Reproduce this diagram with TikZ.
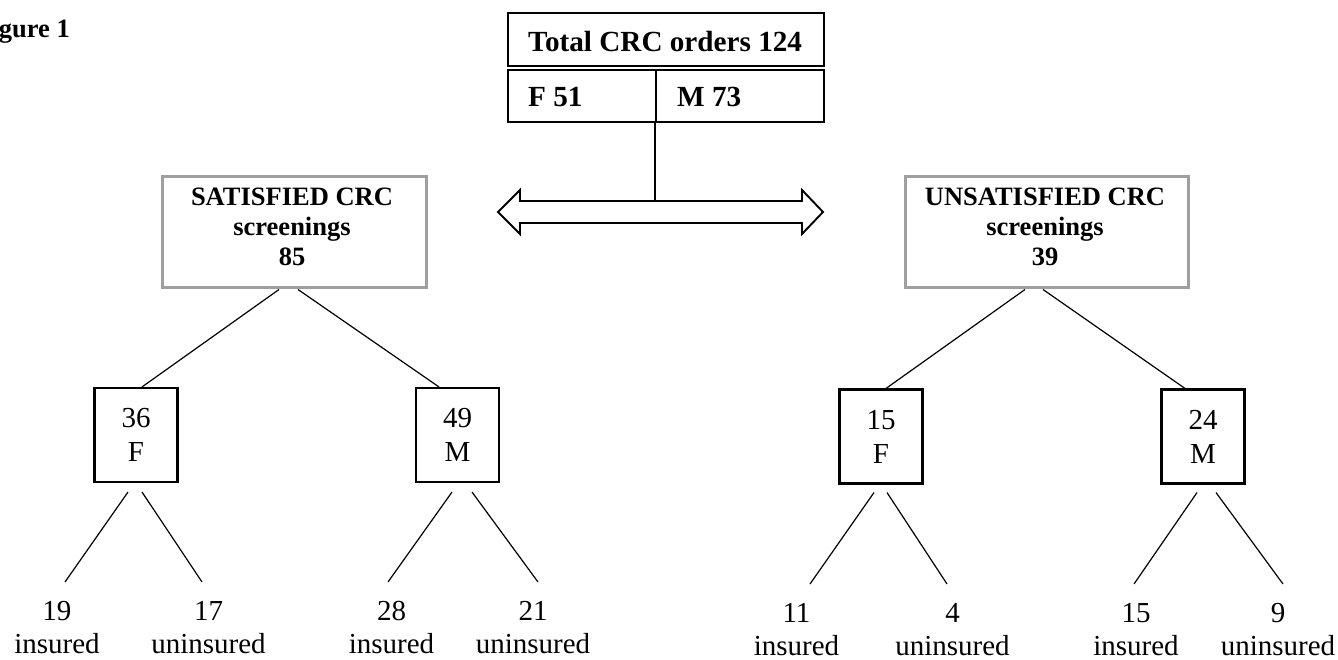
\documentclass[tikz,border=0pt]{standalone}
\usepackage{fontspec}
\setmainfont{Liberation Serif}
\begin{document}
\begin{tikzpicture}[x=1pt,y=-1pt,
  btxt/.style={inner sep=0pt, font=\fontsize{29.2}{33}\selectfont\bfseries},
  htxt/.style={inner sep=0pt, align=center, font=\fontsize{26.5}{30}\selectfont\bfseries},
  topcell/.style={draw, line width=1.9pt, inner sep=0pt, anchor=north west},
  grybox/.style={draw=gray!75, line width=3pt, inner sep=0pt, minimum height=111pt},
  sexbox/.style={draw, line width=2.1pt, align=center, inner sep=0pt, minimum width=83pt, minimum height=94pt, font=\fontsize{29}{34}\selectfont},
  leaf/.style={align=center, inner sep=0pt, anchor=north, font=\fontsize{29}{33}\selectfont},
  conn/.style={line width=1.2pt}
]
\useasboundingbox (0,0) rectangle (1338,660);

% caption fragment
\node[inner sep=0pt, anchor=base east, font=\fontsize{26.5}{30}\selectfont\bfseries] (fig) at (70,38) {gure 1};

% top table
\node[topcell, minimum width=316pt, minimum height=53pt] (tot) at (507,12) {};
\node[topcell, minimum width=148pt, minimum height=52pt] (fcell) at (507,69) {};
\node[topcell, minimum width=168pt, minimum height=52pt] (mcell) at (655,69) {};
\node[btxt, anchor=base west] (tott) at (528,52) {Total CRC orders 124};
\node[btxt, anchor=base west] (ft) at (528,107) {F 51};
\node[btxt, anchor=base west] (mt) at (677,107) {M 73};

% double arrow
\coordinate (arrtop) at (655,201);
\draw[line width=1.9pt, line join=miter] (498,212) -- (520,190) -- (520,201) -- (802,201) -- (802,190) -- (823,212) -- (802,234) -- (802,223) -- (520,223) -- (520,234) -- cycle;
\draw[conn] (mcell.south west) -- (arrtop);

% grey boxes
\node[grybox, minimum width=264pt] (sat) at (294,232.5) {};
\node[htxt] (satt) at (292,226.5) {SATISFIED CRC\\screenings\\85};
\node[grybox, minimum width=283pt] (unsat) at (1046.5,232.5) {};
\node[htxt] (unsatt) at (1045,226.5) {UNSATISFIED CRC\\screenings\\39};

% sex boxes
\node[sexbox] (f1) at (136,435) {36\\F};
\node[sexbox] (m1) at (457.5,435) {49\\M};
\node[sexbox] (f2) at (881,436.5) {15\\F};
\node[sexbox] (m2) at (1203,436.5) {24\\M};

% leaves
\node[leaf] (l19) at (57,601) {19\\insured};
\node[leaf] (l17) at (208.5,601) {17\\uninsured};
\node[leaf] (l28) at (391.5,601) {28\\insured};
\node[leaf] (l21) at (533,601) {21\\uninsured};
\node[leaf] (l11) at (796.5,603) {11\\insured};
\node[leaf] (l4) at (952.5,603) {4\\uninsured};
\node[leaf] (l15) at (1136,603) {15\\insured};
\node[leaf] (l9) at (1278,603) {9\\uninsured};

% connectors
\draw[conn] ([xshift=-15pt]sat.south) -- ([xshift=6pt]f1.north);
\draw[conn] ([xshift=4pt]sat.south) -- ([xshift=-18.5pt]m1.north);
\draw[conn] ([xshift=-21.5pt]unsat.south) -- ([xshift=5pt]f2.north);
\draw[conn] ([xshift=-3.5pt]unsat.south) -- ([xshift=-18pt]m2.north);

\draw[conn] ([xshift=-8pt,yshift=-9pt]f1.south) -- ([xshift=8pt,yshift=19pt]l19.north);
\draw[conn] ([xshift=6pt,yshift=-9pt]f1.south) -- ([xshift=-6.5pt,yshift=19pt]l17.north);
\draw[conn] ([xshift=-5.5pt,yshift=-9pt]m1.south) -- ([xshift=-3.5pt,yshift=19pt]l28.north);
\draw[conn] ([xshift=14.5pt,yshift=-9pt]m1.south) -- ([xshift=5pt,yshift=19pt]l21.north);
\draw[conn] ([xshift=-7pt,yshift=-8pt]f2.south) -- ([xshift=13.5pt,yshift=19pt]l11.north);
\draw[conn] ([xshift=6pt,yshift=-8pt]f2.south) -- ([xshift=-5.5pt,yshift=19pt]l4.north);
\draw[conn] ([xshift=-6pt,yshift=-8pt]m2.south) -- ([xshift=-2pt,yshift=19pt]l15.north);
\draw[conn] ([xshift=13pt,yshift=-8pt]m2.south) -- ([xshift=5pt,yshift=19pt]l9.north);
\end{tikzpicture}
\end{document}
